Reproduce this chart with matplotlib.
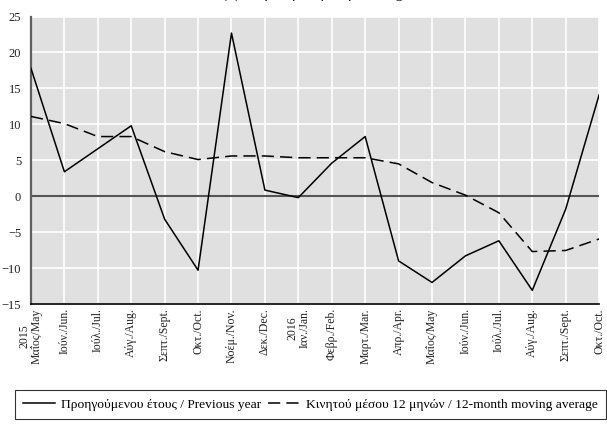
import matplotlib.pyplot as plt
import numpy as np

plt.rcParams['font.family'] = ['Liberation Serif', 'DejaVu Serif']

# Monthly data, May 2015 - Oct 2016
months = ['2015\nΜαΐος/May', 'Ιούν./Jun.', 'Ιούλ./Jul.', 'Αύγ./Aug.', 'Σεπτ./Sept.',
          'Οκτ./Oct.', 'Νοέμ./Nov.', 'Δεκ./Dec.', '2016\nΙαν./Jan.', 'Φεβρ./Feb.',
          'Μαρτ./Mar.', 'Απρ./Apr.', 'Μαΐος/May', 'Ιούν./Jun.', 'Ιούλ./Jul.',
          'Αύγ./Aug.', 'Σεπτ./Sept.', 'Οκτ./Oct.']
prev_year = [17.8, 3.4, 6.6, 9.8, -3.2, -10.3, 22.7, 0.85, -0.2, 4.6,
             8.3, -9.0, -12.0, -8.3, -6.2, -13.1, -1.8, 14.1]
moving_avg = [11.1, 10.1, 8.3, 8.3, 6.2, 5.1, 5.6, 5.6, 5.35, 5.35,
              5.35, 4.5, 1.9, 0.15, -2.3, -7.7, -7.55, -5.95]
yticks = [-15, -10, -5, 0, 5, 10, 15, 20, 25]

legend_labels = ['Προηγούμενου έτους / Previous year',
                 'Κινητού μέσου 12 μηνών / 12-month moving average']

fig = plt.figure(figsize=(6.07, 4.24), dpi=100)
ax = fig.add_axes([0.051, 0.283, 0.936, 0.678])

x = np.arange(len(months))
ax.set_facecolor('#e0e0e0')
ax.grid(True, color='white', linewidth=1.2)
ax.set_axisbelow(True)

ax.axhline(0, color='#555555', linewidth=1.5, zorder=2)
l1, = ax.plot(x, prev_year, color='black', linewidth=1.1, zorder=3)
l2, = ax.plot(x, moving_avg, color='black', linewidth=1.1, dashes=(8, 4), zorder=3)

ax.set_xlim(0, len(months) - 1)
ax.set_ylim(-15, 25)
ax.set_yticks(yticks)
ax.set_xticks(x)
ax.set_xticklabels(months, rotation=90, fontsize=8.5, linespacing=1.0)
ax.tick_params(axis='both', length=0, labelcolor='#222222')
ax.tick_params(axis='y', labelsize=9, pad=7)
ax.tick_params(axis='x', pad=3)

for s in ['top', 'right']:
    ax.spines[s].set_visible(False)
ax.spines['left'].set_color('#606060')
ax.spines['left'].set_linewidth(1.6)
ax.spines['bottom'].set_color('black')
ax.spines['bottom'].set_linewidth(1.2)

# title sits mostly above the canvas, as in the source image
fig.text(0.52, 1.006, '(α) Ετήσια μεταβολή / Change', ha='center', va='baseline',
         fontsize=11)

leg = fig.legend([l1, l2], legend_labels, loc='upper left', ncol=2,
                 bbox_to_anchor=(15 / 607, 1 - 390 / 424, 591 / 607, 0.0), mode='expand',
                 fontsize=9.7, frameon=True, fancybox=False, handlelength=2.4,
                 handletextpad=0.4, columnspacing=0.6, borderpad=0.6,
                 borderaxespad=0)
leg.get_frame().set_edgecolor('black')
leg.get_frame().set_linewidth(0.8)

fig.savefig('out.png', dpi=100)
